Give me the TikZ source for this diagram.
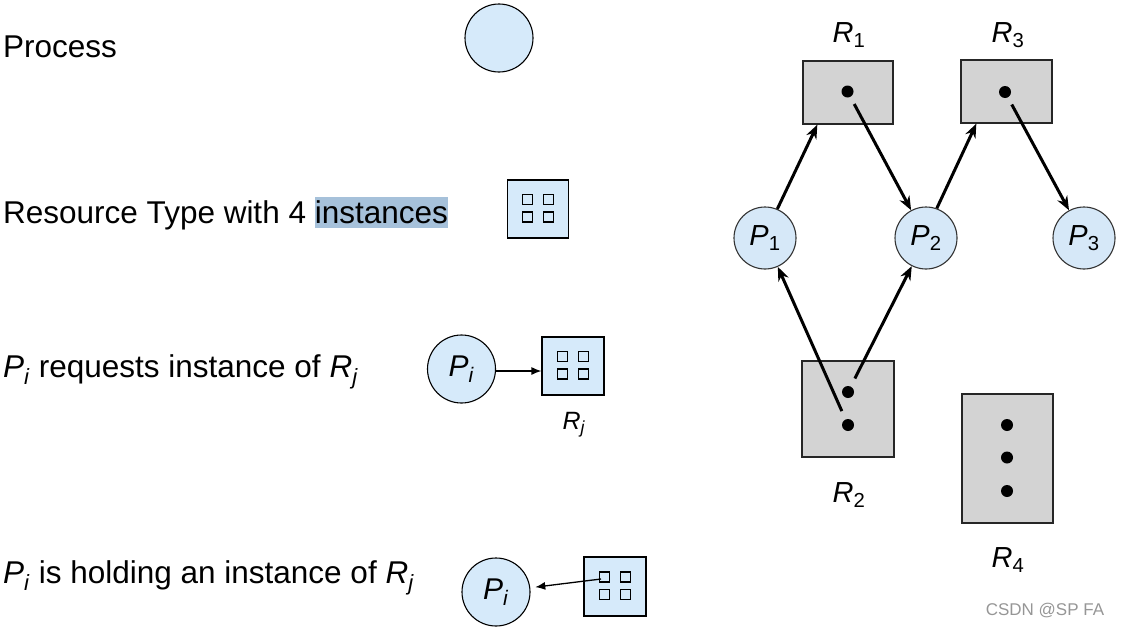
\documentclass[tikz,border=0pt]{standalone}
\usepackage{fontspec}
\setmainfont{Liberation Sans}
\usetikzlibrary{arrows.meta,calc}
\definecolor{procfill}{RGB}{214,234,250}
\definecolor{hl}{RGB}{166,193,218}
\definecolor{graybox}{RGB}{211,211,211}
\definecolor{ballfill}{RGB}{214,232,248}
\definecolor{wm}{RGB}{150,150,150}
\newcommand{\fourSquares}[1]{%
  \foreach \dx in {-10.5,10.5}{\foreach \dy in {-9.5,8}{%
    \draw[line width=1.1pt] ($(#1)+(\dx-5,\dy-5)$) rectangle ($(#1)+(\dx+5,\dy+5)$);}}}
\begin{document}
\begin{tikzpicture}[x=1pt,y=-1pt,
  proc/.style={circle, draw, line width=1.1pt, fill=procfill, minimum size=68, inner sep=0,
    font=\fontsize{30}{34}\selectfont},
  res/.style={rectangle, draw, line width=1.1pt, fill=procfill, minimum width=61, minimum height=58, inner sep=0},
  bigtext/.style={font=\fontsize{31.5}{36}\selectfont, anchor=base west, inner sep=0},
  rbox/.style={draw=black!85, line width=1.3pt, fill=graybox, inner sep=0},
  rproc/.style={circle, draw=black!80, line width=1.1pt, fill=ballfill, minimum size=62, inner sep=0,
    font=\fontsize{29}{32}\selectfont},
  dot/.style={circle, fill=black, minimum size=12, inner sep=0},
  edge/.style={line width=3pt, -{Stealth[length=14,width=11]}},
  lbl/.style={font=\fontsize{29}{32}\selectfont, inner sep=0},
  thinarrow/.style={line width=1.3pt, -{Latex[length=10,width=8]}}
]
\useasboundingbox (0,0) rectangle (1121,629);

% ---- left legend ----
\node[bigtext] (tproc) at (3,57) {Process};
\node[proc] (proc) at (499,38) {};

\node[bigtext] (tres) at (3,223) {Resource Type with 4 {\setlength{\fboxsep}{0pt}\colorbox{hl}{\rule[-5pt]{0pt}{31pt}instances}}};
\node[res] (rt) at (538,209) {};
\fourSquares{rt}

\node[bigtext] (treq) at (3,377) {\textit{P}\textsubscript{\textit{i}} requests instance of \textit{R}\textsubscript{\textit{j}}};
\node[proc] (pi1) at (461.5,369) {\textit{P}\textsubscript{\textit{i}}};
\node[res, minimum width=62] (rj1) at (573,366) {};
\fourSquares{rj1}
\node[font=\fontsize{25}{28}\selectfont, inner sep=0] (rjl) at (574,425) {\textit{R}\textsubscript{\textit{j}}};
\draw[thinarrow] (pi1.east |- 0,371) -- (rj1.west |- 0,371);

\node[bigtext] (thold) at (3,583) {\textit{P}\textsubscript{\textit{i}} is holding an instance of \textit{R}\textsubscript{\textit{j}}};
\node[proc] (pi2) at (496,592) {\textit{P}\textsubscript{\textit{i}}};
\node[res, minimum width=62, minimum height=59] (rj2) at (615,586.5) {};
\fourSquares{rj2}
\coordinate (hsq) at (601,579);
\draw[thinarrow, shorten >=5] (hsq) -- (pi2);

% ---- right graph ----
\node[rbox, minimum width=90, minimum height=63] (r1) at (848,92.5) {};
\node[rbox, minimum width=91, minimum height=63] (r3) at (1006.5,91.5) {};
\node[rbox, minimum width=92, minimum height=96] (r2) at (848,409) {};
\node[rbox, minimum width=91, minimum height=129] (r4) at (1007.5,458.5) {};

\node[dot] (d1) at (847.5,91.5) {};
\node[dot] (d3) at (1005,92) {};
\node[dot] (d2a) at (848,392) {};
\node[dot] (d2b) at (848,425) {};
\node[dot] (d4a) at (1007,425) {};
\node[dot] (d4b) at (1007,457.5) {};
\node[dot] (d4c) at (1007,491) {};

\node[rproc] (p1) at (765,238) {\textit{P}\textsubscript{1}};
\node[rproc] (p2) at (926,238) {\textit{P}\textsubscript{2}};
\node[rproc] (p3) at (1084,238) {\textit{P}\textsubscript{3}};

\node[lbl] (l1) at (849,35) {\textit{R}\textsubscript{1}};
\node[lbl] (l3) at (1008,35) {\textit{R}\textsubscript{3}};
\node[lbl] (l2) at (849,495) {\textit{R}\textsubscript{2}};
\node[lbl] (l4) at (1008,560) {\textit{R}\textsubscript{4}};

\draw[edge] (p1.67) -- ([xshift=15pt]r1.south west);
\draw[edge, shorten <=8] (d1) -- (p2);
\draw[edge] (p2.70) -- ([xshift=16pt]r3.south west);
\draw[edge, shorten <=8] (d3) -- (p3);
\draw[edge, shorten <=9] (d2b) -- (p1);
\draw[edge, shorten <=9] (d2a) -- (p2);

\node[font=\fontsize{17}{20}\selectfont, text=wm, inner sep=0] (wmark) at (1045,611) {CSDN @SP FA};
\end{tikzpicture}
\end{document}
